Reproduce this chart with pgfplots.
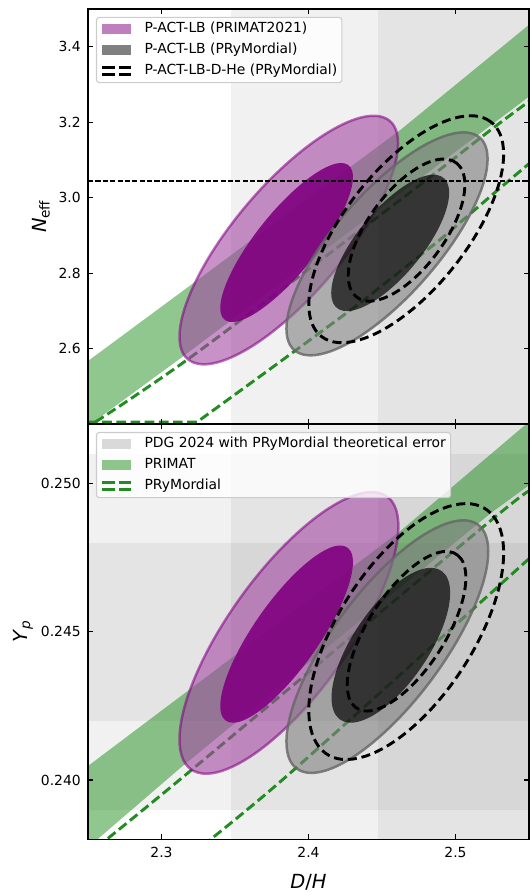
\documentclass[border=0pt]{standalone}
\usepackage{fontspec}
\setmainfont{DejaVu Sans}
\usepackage{pgfplots}
\pgfplotsset{compat=1.18}
\definecolor{mplpurple}{RGB}{128,0,128}
\definecolor{pfill}{RGB}{163,72,163}
\definecolor{mplgreen}{RGB}{0,128,0}
\definecolor{fgreen}{RGB}{34,139,34}
\definecolor{mplgray}{RGB}{128,128,128}
\pgfplotsset{
  mystyle/.style={
    scale only axis, width=317.52pt,
    xmin=2.25, xmax=2.55,
    tick align=inside, tick pos=both,
    major tick length=3.5pt,
    tick style={black, line width=0.8pt},
    axis line style={line width=0.8pt},
    minor tick num=0,
    axis on top,
    clip=true,
    scaled ticks=false,
    /pgf/number format/assume math mode=true,
    tick label style={font=\fontsize{10}{12}\selectfont},
    xticklabel style={yshift=-2pt, /pgf/number format/fixed, /pgf/number format/fixed zerofill, /pgf/number format/precision=1},
    yticklabel style={xshift=-1.7pt},
    label style={font=\fontsize{14}{17}\selectfont},
    xtick={2.3,2.4,2.5},
    legend cell align=left,
    legend style={font=\fontsize{10}{12}\selectfont, draw=black!20, fill=white, fill opacity=0.8, text opacity=1, draw opacity=1, rounded corners=2pt, line width=0.8pt, at={(axis description cs:0.018,0.981)}, anchor=north west, row sep=5.6pt, column sep=8.9pt, inner xsep=3.4pt, inner ysep=3.6pt, nodes={inner sep=0pt, text height=7.5pt, text depth=2pt}},
  },
  band/.style={fill=black, fill opacity=0.055, draw=none, forget plot},
  prmfill/.style={fill=mplgreen, fill opacity=0.44, draw=none, forget plot},
  prydash/.style={fgreen, line width=2.1pt, dash pattern=on 7pt off 3.2pt, forget plot},
  pouter/.style={smooth cycle, tension=0.64, fill=pfill, fill opacity=0.6, draw=mplpurple, draw opacity=0.55, line width=1.8pt, forget plot},
  pinner/.style={smooth cycle, tension=0.64, fill=mplpurple, fill opacity=0.9, draw=none, forget plot},
  gouter/.style={smooth cycle, tension=0.64, fill=mplgray, fill opacity=0.6, draw=black!60, draw opacity=0.8, line width=1.8pt, forget plot},
  ginner/.style={smooth cycle, tension=0.64, fill=black, fill opacity=0.68, draw=none, forget plot},
  bdash/.style={smooth cycle, tension=0.64, black, line width=2.1pt, dash pattern=on 6.5pt off 3.5pt, forget plot},
}
\begin{document}
\begin{tikzpicture}
% ---------------- top panel ----------------
\begin{axis}[mystyle, at={(63.36pt,336.96pt)}, anchor=south west, height=298.8pt,
  ymin=2.4, ymax=3.5, xticklabels={},
  ytick={2.6,2.8,3.0,3.2,3.4},
  yticklabel style={/pgf/number format/fixed, /pgf/number format/fixed zerofill, /pgf/number format/precision=1},
  ylabel={\textit{N}\textsubscript{eff}},
  ylabel style={at={(axis description cs:-0.0757,0.5)}, anchor=south},
]
\addplot[band] coordinates {(2.347,2.3) (2.7,2.3) (2.7,3.6) (2.347,3.6)};
\addplot[band] coordinates {(2.447,2.3) (2.7,2.3) (2.7,3.6) (2.447,3.6)};
\addplot[prmfill] coordinates {(2.24,2.538) (2.4627,3.18) (2.56,3.49) (2.56,3.297) (2.315,2.5802) (2.24,2.366)};
\addplot[prydash, smooth] coordinates {(2.247,2.385) (2.3195,2.576) (2.4627,2.9947) (2.5241,3.1799) (2.55,3.255)};
\addplot[prydash] coordinates {(2.25,2.405) (2.3241,2.405) (2.3673,2.527) (2.4014,2.624) (2.4332,2.715) (2.49,2.89) (2.5287,3.02) (2.55,3.09)};
% purple
\addplot[pouter] coordinates {(2.46091,3.14357) (2.45095,3.21289) (2.42375,3.19504) (2.38659,3.09481) (2.34943,2.93904) (2.32223,2.76949) (2.31227,2.63157) (2.32223,2.56225) (2.34943,2.58010) (2.38659,2.68033) (2.42375,2.83610) (2.45095,3.00565)};
\addplot[pinner] coordinates {(2.43022,3.05445) (2.42418,3.09103) (2.40767,3.07133) (2.38511,3.00061) (2.36255,2.89783) (2.34604,2.79053) (2.34000,2.70745) (2.34604,2.67087) (2.36255,2.69057) (2.38511,2.76129) (2.40767,2.86407) (2.42418,2.97137)};
% gray
\addplot[gouter] coordinates {(2.52182,3.10243) (2.51265,3.16799) (2.48762,3.15570) (2.45341,3.06885) (2.41920,2.93070) (2.39417,2.77829) (2.38500,2.65243) (2.39417,2.58687) (2.41920,2.59916) (2.45341,2.68601) (2.48762,2.82416) (2.51265,2.97657)};
\addplot[ginner] coordinates {(2.49568,3.01287) (2.49031,3.05640) (2.47563,3.05269) (2.45557,3.00273) (2.43551,2.91989) (2.42083,2.82640) (2.41546,2.74727) (2.42083,2.70374) (2.43551,2.70745) (2.45557,2.75741) (2.47563,2.84025) (2.49031,2.93374)};
% dashed black
\addplot[bdash] coordinates {(2.53273,3.11523) (2.52385,3.20129) (2.49961,3.21097) (2.46648,3.14168) (2.43335,3.01197) (2.40911,2.85663) (2.40023,2.71723) (2.40911,2.63117) (2.43335,2.62149) (2.46648,2.69078) (2.49961,2.82049) (2.52385,2.97583)};
\addplot[bdash] coordinates {(2.50636,3.03402) (2.50105,3.09048) (2.48653,3.09965) (2.46670,3.05909) (2.44687,2.97965) (2.43235,2.88264) (2.42704,2.79402) (2.43235,2.73756) (2.44687,2.72839) (2.46670,2.76895) (2.48653,2.84839) (2.50105,2.94540)};
\addplot[black, line width=1pt, dash pattern=on 3.7pt off 1.6pt, forget plot] coordinates {(2.2,3.044) (2.6,3.044)};
\addlegendimage{legend image code/.code={\path[fill=mplpurple, fill opacity=0.5, draw=none, sharp corners] (0pt,-3.6pt) rectangle (20.6pt,3.6pt);}}
\addlegendentry{P-ACT-LB (PRIMAT2021)}
\addlegendimage{legend image code/.code={\path[fill=mplgray, fill opacity=1, draw=none, sharp corners] (0pt,-3.6pt) rectangle (20.6pt,3.6pt);}}
\addlegendentry{P-ACT-LB (PRyMordial)}
\addlegendimage{legend image code/.code={\draw[black, line width=1.7pt, sharp corners, dash pattern=on 9pt off 2.6pt] (0pt,2.6pt) -- (20.6pt,2.6pt) (0pt,-2.6pt) -- (20.6pt,-2.6pt);}}
\addlegendentry{P-ACT-LB-D-He (PRyMordial)}
\end{axis}
% ---------------- bottom panel ----------------
\begin{axis}[mystyle, at={(63.36pt,37.94pt)}, anchor=south west, height=299.0pt,
  ymin=0.238, ymax=0.252,
  ytick={0.240,0.245,0.250},
  yticklabel style={/pgf/number format/fixed, /pgf/number format/fixed zerofill, /pgf/number format/precision=3},
  ylabel={\textit{Y}\textsubscript{\textit{p}}},
  ylabel style={at={(axis description cs:-0.1137,0.5)}, anchor=south},
  xlabel={\textit{D}/\textit{H}},
  xlabel style={at={(axis description cs:0.5,-0.0725)}, anchor=north},
]
\addplot[band] coordinates {(2.347,0.236) (2.7,0.236) (2.7,0.254) (2.347,0.254)};
\addplot[band] coordinates {(2.447,0.236) (2.7,0.236) (2.7,0.254) (2.447,0.254)};
\addplot[band] coordinates {(2.2,0.239) (2.7,0.239) (2.7,0.251) (2.2,0.251)};
\addplot[band] coordinates {(2.2,0.242) (2.7,0.242) (2.7,0.248) (2.2,0.248)};
\addplot[prmfill] coordinates {(2.24,0.2401) (2.4627,0.2484) (2.56,0.2525) (2.56,0.2503) (2.5241,0.2490) (2.3127,0.2404) (2.24,0.2373)};
\addplot[prydash, smooth] coordinates {(2.256,0.23773) (2.3195,0.24030) (2.5241,0.24875) (2.55,0.24971)};
\addplot[prydash, smooth] coordinates {(2.328,0.23779) (2.3877,0.24024) (2.55,0.24746)};
% purple
\addplot[pouter] coordinates {(2.46113,0.248554) (2.45116,0.249623) (2.42392,0.249443) (2.38670,0.248062) (2.34948,0.245849) (2.32224,0.243399) (2.31227,0.241366) (2.32224,0.240297) (2.34948,0.240477) (2.38670,0.241858) (2.42392,0.244071) (2.45116,0.246522)};
\addplot[pinner] coordinates {(2.43022,0.247338) (2.42418,0.247890) (2.40767,0.247646) (2.38511,0.246671) (2.36255,0.245226) (2.34604,0.243699) (2.34000,0.242498) (2.34604,0.241946) (2.36255,0.242190) (2.38511,0.243165) (2.40767,0.244610) (2.42418,0.246137)};
% gray
\addplot[gouter] coordinates {(2.52228,0.247703) (2.51308,0.248673) (2.48796,0.248524) (2.45364,0.247295) (2.41932,0.245317) (2.39420,0.243118) (2.38500,0.241289) (2.39420,0.240319) (2.41932,0.240468) (2.45364,0.241697) (2.48796,0.243675) (2.51308,0.245874)};
\addplot[ginner] coordinates {(2.49636,0.246305) (2.49095,0.247031) (2.47619,0.247090) (2.45602,0.246465) (2.43585,0.245325) (2.42109,0.243976) (2.41568,0.242777) (2.42109,0.242051) (2.43585,0.241993) (2.45602,0.242617) (2.47619,0.243757) (2.49095,0.245106)};
% dashed black
\addplot[bdash] coordinates {(2.53273,0.247653) (2.52385,0.249000) (2.49961,0.249275) (2.46648,0.248406) (2.43335,0.246625) (2.40911,0.244410) (2.40023,0.242353) (2.40911,0.241006) (2.43335,0.240731) (2.46648,0.241600) (2.49961,0.243381) (2.52385,0.245596)};
\addplot[bdash] coordinates {(2.50704,0.246814) (2.50163,0.247572) (2.48687,0.247645) (2.46670,0.247012) (2.44653,0.245845) (2.43177,0.244454) (2.42636,0.243214) (2.43177,0.242456) (2.44653,0.242383) (2.46670,0.243016) (2.48687,0.244183) (2.50163,0.245574)};
\addlegendimage{legend image code/.code={\path[fill=black!15, fill opacity=1, draw=none, sharp corners] (0pt,-3.6pt) rectangle (20.6pt,3.6pt);}}
\addlegendentry{PDG 2024 with PRyMordial theoretical error}
\addlegendimage{legend image code/.code={\path[fill=mplgreen, fill opacity=0.44, draw=none, sharp corners] (0pt,-3.6pt) rectangle (20.6pt,3.6pt);}}
\addlegendentry{PRIMAT}
\addlegendimage{legend image code/.code={\draw[fgreen, line width=1.7pt, sharp corners, dash pattern=on 9pt off 2.6pt] (0pt,2.6pt) -- (20.6pt,2.6pt) (0pt,-2.6pt) -- (20.6pt,-2.6pt);}}
\addlegendentry{PRyMordial}
\end{axis}
\pgfresetboundingbox
\useasboundingbox (0,0) rectangle (380.88pt,642.24pt);
\end{tikzpicture}
\end{document}
